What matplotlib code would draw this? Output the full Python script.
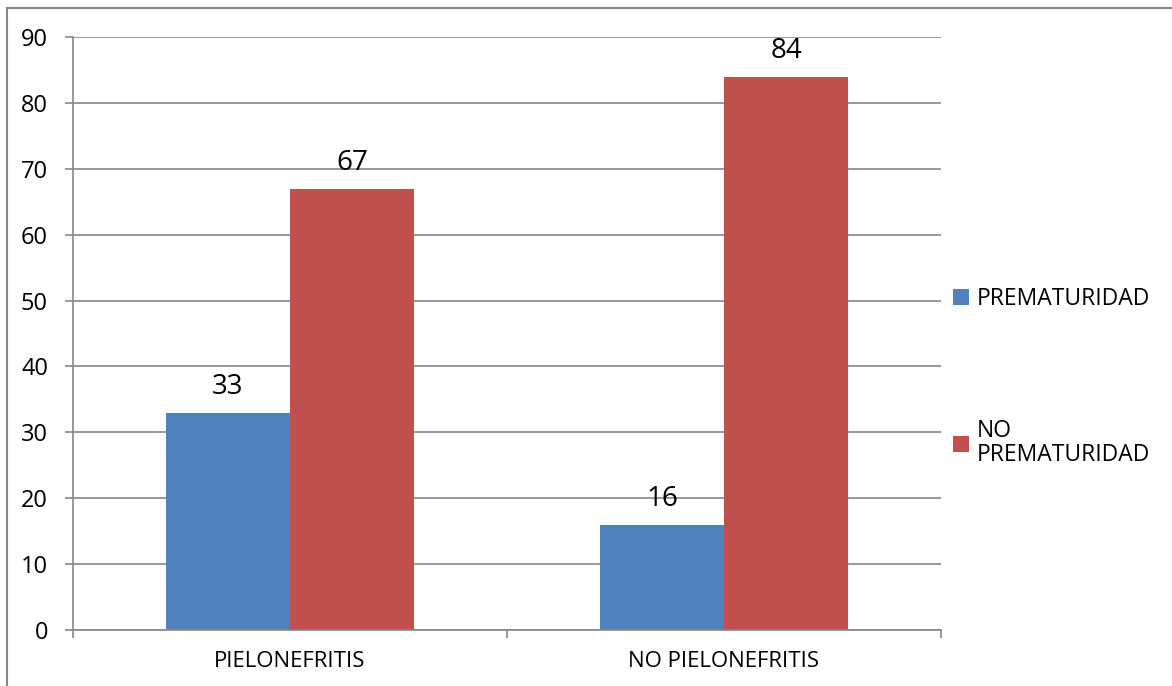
import matplotlib.pyplot as plt
from matplotlib.lines import Line2D
import numpy as np

categories = ["PIELONEFRITIS", "NO PIELONEFRITIS"]
prematuridad = [33, 16]
no_prematuridad = [67, 84]
series_labels = ["PREMATURIDAD", "NO\nPREMATURIDAD"]

plt.rcParams['font.family'] = ['Open Sans', 'DejaVu Sans']

fig = plt.figure(figsize=(11.72, 6.86), dpi=100)
ax = fig.add_axes([73 / 1172, 56 / 686, 868 / 1172, 593 / 686])

x = np.arange(len(categories))
w = 0.286
b1 = ax.bar(x - w / 2, prematuridad, w, color='#4F81BD', label=series_labels[0], zorder=2)
b2 = ax.bar(x + w / 2, no_prematuridad, w, color='#C0504D', label=series_labels[1], zorder=2)

for bars, vals in ((b1, prematuridad), (b2, no_prematuridad)):
    for bar, v in zip(bars, vals):
        ax.text(bar.get_x() + bar.get_width() / 2, v + 1.7, str(v),
                ha='center', va='bottom', fontsize=20)

ax.set_xlim(-0.5, 1.5)
ax.set_ylim(0, 90)
ax.set_yticks(range(0, 91, 10))
ax.yaxis.grid(True, color='#868686', linewidth=1.2, zorder=0)
ax.set_axisbelow(True)

ax.set_xticks([-0.5, 0.5, 1.5])
ax.set_xticklabels([])
ax.set_xticks(x, minor=True)
ax.set_xticklabels(categories, minor=True, fontsize=16)
ax.tick_params(axis='x', which='minor', length=0, pad=15)
ax.tick_params(axis='x', which='major', length=6, color='#868686', width=1.2)
ax.tick_params(axis='y', length=6, color='#868686', width=1.2, labelsize=17, pad=12)

for side in ('top', 'right'):
    ax.spines[side].set_visible(False)
for side in ('left', 'bottom'):
    ax.spines[side].set_color('#868686')
    ax.spines[side].set_linewidth(1.2)

leg = fig.legend(handles=[b1, b2], labels=series_labels, loc='center left',
                 bbox_to_anchor=(932 / 1172, 1 - 377 / 686), frameon=False,
                 fontsize=16.5, handlelength=0.7, handleheight=0.7,
                 handletextpad=0.35, labelspacing=4.7)
for t in leg.get_texts():
    t.set_linespacing(1.0)

# outer chart border (left and top visible)
fig.add_artist(Line2D([7 / 1172, 7 / 1172], [0, 1 - 8 / 686], transform=fig.transFigure,
                      color='#868686', linewidth=1.5))
fig.add_artist(Line2D([7 / 1172, 1], [1 - 8 / 686, 1 - 8 / 686], transform=fig.transFigure,
                      color='#868686', linewidth=1.5))

fig.savefig('out.png', dpi=100)
